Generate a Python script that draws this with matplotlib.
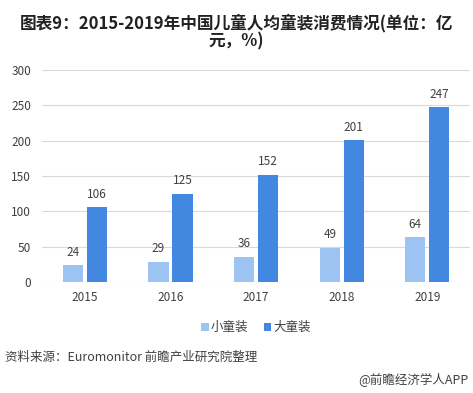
import matplotlib.pyplot as plt
import numpy as np

plt.rcParams['font.family'] = ['Noto Sans CJK SC', 'DejaVu Sans']

years = ["2015", "2016", "2017", "2018", "2019"]
small = [24, 29, 36, 49, 64]
big = [106, 125, 152, 201, 247]
series_names = ["小童装", "大童装"]

c_small = "#9DC3F2"
c_big = "#4287E0"
txt = "#404040"

fig = plt.figure(figsize=(4.73, 3.93), dpi=100)
ax = fig.add_axes([0.089, 0.282, 0.905, 0.54])

x = np.arange(len(years))
w = 0.235
off = 0.14
b1 = ax.bar(x - off, small, w, color=c_small, label=series_names[0], zorder=3)
b2 = ax.bar(x + off, big, w, color=c_big, label=series_names[1], zorder=3)

for bars, vals in [(b1, small), (b2, big)]:
    for r, v in zip(bars, vals):
        ax.text(r.get_x() + r.get_width() / 2, v + 9, str(v),
                ha="center", va="bottom", fontsize=8.5, color=txt)

ax.set_xlim(-0.5, len(years) - 0.5)
ax.set_ylim(0, 300)
ax.set_yticks(range(0, 301, 50))
ax.set_xticks(x)
ax.set_xticklabels(years)
ax.tick_params(axis="both", length=0, labelsize=8.5, labelcolor=txt)
ax.tick_params(axis="y", pad=8)
ax.tick_params(axis="x", pad=6)
ax.grid(axis="y", color="#D9D9D9", linewidth=0.8, zorder=0)
for s in ax.spines.values():
    s.set_visible(False)

ax.legend(loc="upper center", bbox_to_anchor=(0.5, -0.13), ncol=2, frameon=False,
          fontsize=9, handlelength=0.6, handleheight=0.6, handletextpad=0.2,
          columnspacing=1.2, labelcolor=txt)

fig.text(0.5, 0.965, "图表9：2015-2019年中国儿童人均童装消费情况(单位：亿\n元，%)",
         ha="center", va="top", fontsize=12, fontweight="bold", color="#222222",
         linespacing=1.0)
fig.text(0.01, 0.092, "资料来源：Euromonitor 前瞻产业研究院整理",
         ha="left", va="center", fontsize=9, color=txt)
fig.text(0.99, 0.032, "@前瞻经济学人APP",
         ha="right", va="center", fontsize=9, color=txt)

fig.savefig("out.png", dpi=100)
